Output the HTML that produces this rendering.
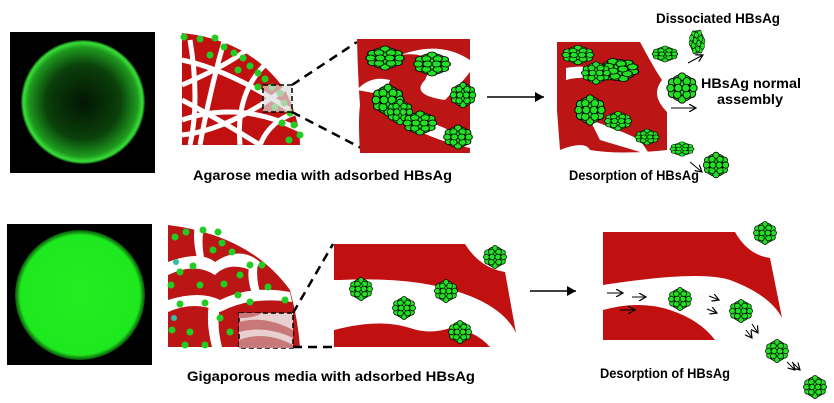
<!DOCTYPE html>
<html><head><meta charset="utf-8"><style>
html,body{margin:0;padding:0;background:#fff;}
svg{display:block;}
text{font-family:"Liberation Sans",Arial,sans-serif;font-weight:bold;fill:#000;}
</style></head><body>
<svg width="834" height="403" viewBox="0 0 834 403" xmlns="http://www.w3.org/2000/svg">
<defs>
<radialGradient id="ring" cx="0.5" cy="0.5" r="0.5">
<stop offset="0" stop-color="#031503"/><stop offset="0.6" stop-color="#0a400a"/><stop offset="0.88" stop-color="#1e9a1e"/><stop offset="0.96" stop-color="#38e038"/><stop offset="1" stop-color="#0c400c"/>
</radialGradient>
<radialGradient id="disc" cx="0.5" cy="0.5" r="0.5">
<stop offset="0" stop-color="#22ee22"/><stop offset="0.92" stop-color="#1ee81e"/><stop offset="1" stop-color="#0a500a"/>
</radialGradient>
<g id="cl" fill="#22e022" stroke="#000" stroke-width="1">
<circle cx="0" cy="0" r="14"/>
<circle cx="0" cy="-12" r="4"/><circle cx="10.4" cy="-6" r="4"/><circle cx="10.4" cy="6" r="4"/><circle cx="0" cy="12" r="4"/><circle cx="-10.4" cy="6" r="4"/><circle cx="-10.4" cy="-6" r="4"/>
<circle cx="-5" cy="-7" r="4"/><circle cx="5" cy="-7" r="4"/><circle cx="-5" cy="7" r="4"/><circle cx="5" cy="7" r="4"/>
<circle cx="-12" cy="0" r="4"/><circle cx="12" cy="0" r="4"/><circle cx="-4" cy="0" r="4"/><circle cx="4" cy="0" r="4"/>
</g>
<marker id="ah" markerWidth="8" markerHeight="8" refX="7" refY="4" orient="auto" markerUnits="userSpaceOnUse"><path d="M0,0 L7,4 L0,8" fill="none" stroke="#000" stroke-width="1.2"/></marker>
<marker id="ahf" markerWidth="10" markerHeight="10" refX="9" refY="5" orient="auto" markerUnits="userSpaceOnUse"><path d="M0,0 L9,5 L0,10 z" fill="#000"/></marker>
</defs>

<rect x="10" y="32" width="145" height="141" fill="#000"/>
<circle cx="83" cy="102" r="62" fill="url(#ring)"/>
<rect x="7" y="224" width="145" height="141" fill="#000"/>
<circle cx="80" cy="295" r="65" fill="url(#disc)"/>

<path d="M182,33 Q250,40 285,90 Q300,120 300,145 L182,145 Z" fill="#c01010"/>
<g stroke="#fff" stroke-width="5" fill="none">
<path d="M182,60 Q230,70 290,110"/><path d="M182,85 Q240,60 260,38"/><path d="M200,145 Q210,90 225,38"/>
<path d="M182,120 Q240,100 300,130"/><path d="M240,145 Q235,90 270,60"/><path d="M182,100 Q220,120 260,145"/>
<path d="M190,40 Q200,100 190,145"/><path d="M260,145 Q270,120 298,112"/><path d="M182,135 Q230,130 290,85"/>
</g>
<g fill="#22cc22">
<circle cx="184" cy="37" r="3.5"/><circle cx="200" cy="39" r="3.5"/><circle cx="215" cy="38" r="3.5"/><circle cx="224" cy="47" r="3.5"/><circle cx="234" cy="53" r="3.5"/><circle cx="243" cy="58" r="3.5"/><circle cx="250" cy="66" r="3.5"/><circle cx="258" cy="73" r="3.5"/><circle cx="265" cy="79" r="3.5"/><circle cx="272" cy="87" r="3.5"/><circle cx="280" cy="93" r="3.5"/><circle cx="284" cy="103" r="3.5"/><circle cx="290" cy="113" r="3.5"/><circle cx="294" cy="125" r="3.5"/><circle cx="300" cy="135" r="3.5"/><circle cx="289" cy="140" r="3.5"/><circle cx="282" cy="123" r="3.5"/><circle cx="258" cy="87" r="3.5"/><circle cx="238" cy="70" r="3.5"/><circle cx="210" cy="55" r="3.5"/><circle cx="275" cy="107" r="3.5"/>
</g>
<rect x="263" y="85" width="29" height="27" fill="#ddd" fill-opacity="0.7" stroke="#000" stroke-width="1.5" stroke-dasharray="5,3"/>
<g stroke="#000" stroke-width="2.5" stroke-dasharray="9,6"><line x1="292" y1="85" x2="357" y2="42"/><line x1="292" y1="112" x2="365" y2="150"/></g>

<path d="M357,39 L470,39 L470,153 L360,153 Q358,120 360,105 Q358,80 357,39 Z" fill="#bb1515"/>
<path d="M400,55 Q440,50 425,80 Q410,95 445,100 Q460,85 470,72 L470,60 Q440,40 400,55 Z" fill="#fff"/>
<path d="M395,110 Q430,120 470,140 L470,148 Q430,140 395,118 Z" fill="#fff"/>
<path d="M357,90 Q370,75 390,80 L385,95 Z" fill="#fff"/>
<use href="#cl" transform="translate(385,58) scale(1.2,0.75)"/>
<use href="#cl" transform="translate(432,64) scale(1.15,0.75)"/>
<use href="#cl" transform="translate(463,95) scale(0.8)"/>
<use href="#cl" transform="translate(388,100) scale(1.0)"/>
<use href="#cl" transform="translate(400,112) scale(0.8)"/>
<use href="#cl" transform="translate(420,123) scale(1.05,0.75)"/>
<use href="#cl" transform="translate(458,137) scale(0.9,0.75)"/>
<line x1="487" y1="97" x2="544" y2="97" stroke="#000" stroke-width="1.5" marker-end="url(#ahf)"/>

<path d="M557,42 L640,42 Q655,70 662,80 Q650,95 667,112 L667,150 Q620,155 590,150 Q585,140 560,150 L557,110 Z" fill="#bb1515"/>
<path d="M566,68 Q600,62 600,82 Q585,75 566,80 Z" fill="#fff"/>
<path d="M590,120 Q620,130 640,140 L650,155 L600,140 Z" fill="#fff"/>
<use href="#cl" transform="translate(578,55) scale(1.0,0.6)"/>
<use href="#cl" transform="translate(618,70) scale(1.3,0.75) rotate(-20)"/>
<use href="#cl" transform="translate(596,73) scale(0.9,0.7)"/>
<use href="#cl" transform="translate(665,54) scale(0.8,0.5)"/>
<use href="#cl" transform="translate(590,110) scale(0.95)"/>
<use href="#cl" transform="translate(618,121) scale(0.85,0.6)"/>
<use href="#cl" transform="translate(647,137) scale(0.75,0.5)"/>
<use href="#cl" transform="translate(682,149) scale(0.75,0.45)"/>
<use href="#cl" transform="translate(697,42) scale(0.5,0.8) rotate(25)"/>
<use href="#cl" transform="translate(682,88) scale(0.95)"/>
<use href="#cl" transform="translate(716,165) scale(0.8)"/>
<g stroke="#000" stroke-width="1" fill="none" marker-end="url(#ah)">
<line x1="688" y1="63" x2="703" y2="55"/><line x1="671" y1="108" x2="696" y2="108"/><line x1="690" y1="162" x2="702" y2="172"/>
</g>

<text x="193" y="180" font-size="13.5" textLength="259" lengthAdjust="spacingAndGlyphs">Agarose media with adsorbed HBsAg</text>
<text x="569" y="180" font-size="13.5" textLength="130" lengthAdjust="spacingAndGlyphs">Desorption of HBsAg</text>
<text x="656" y="23" font-size="13.5" textLength="124" lengthAdjust="spacingAndGlyphs">Dissociated HBsAg</text>
<text x="701" y="88" font-size="13.5" textLength="100" lengthAdjust="spacingAndGlyphs">HBsAg normal</text>
<text x="717" y="104" font-size="13.5" textLength="66" lengthAdjust="spacingAndGlyphs">assembly</text>

<path d="M168,225 Q250,235 290,290 Q298,320 300,347 L168,347 Z" fill="#bb1515"/>
<g fill="#fff">
<path d="M168,262 Q200,250 215,262 Q240,245 260,262 L255,272 Q230,260 215,275 Q195,262 168,275 Z"/>
<path d="M168,300 Q200,290 220,300 Q250,285 290,292 L292,302 Q250,296 220,312 Q195,300 168,312 Z"/>
<path d="M195,225 Q192,240 198,262 L205,262 Q200,240 205,225 Z"/>
<path d="M210,300 Q205,320 212,347 L222,347 Q215,320 222,300 Z"/>
<path d="M250,262 Q245,280 255,300 L262,298 Q255,280 258,262 Z"/>
</g>
<g fill="#22cc22">
<circle cx="175" cy="237" r="3.5"/><circle cx="186" cy="232" r="3.5"/><circle cx="203" cy="230" r="3.5"/><circle cx="218" cy="232" r="3.5"/><circle cx="222" cy="243" r="3.5"/><circle cx="213" cy="250" r="3.5"/><circle cx="232" cy="252" r="3.5"/><circle cx="250" cy="265" r="3.5"/><circle cx="262" cy="265" r="3.5"/><circle cx="268" cy="287" r="3.5"/><circle cx="285" cy="300" r="3.5"/><circle cx="193" cy="266" r="3.5"/><circle cx="180" cy="272" r="3.5"/><circle cx="171" cy="285" r="3.5"/><circle cx="200" cy="285" r="3.5"/><circle cx="224" cy="284" r="3.5"/><circle cx="238" cy="295" r="3.5"/><circle cx="250" cy="302" r="3.5"/><circle cx="180" cy="304" r="3.5"/><circle cx="205" cy="303" r="3.5"/><circle cx="220" cy="318" r="3.5"/><circle cx="190" cy="332" r="3.5"/><circle cx="172" cy="330" r="3.5"/><circle cx="205" cy="345" r="3.5"/><circle cx="185" cy="345" r="3.5"/><circle cx="230" cy="332" r="3.5"/><circle cx="240" cy="275" r="3.5"/>
</g>
<circle cx="176" cy="262" r="3" fill="#33bbaa"/><circle cx="174" cy="318" r="3" fill="#33bbaa"/>
<rect x="239" y="313" width="54" height="35" fill="#e8d0d0" stroke="#000" stroke-width="1.5" stroke-dasharray="5,3"/>
<path d="M239,322 Q265,315 293,330 L293,338 Q265,325 239,332 Z" fill="#c87878"/>
<path d="M239,340 Q265,330 293,345 L293,348 L239,348 Z" fill="#c87878"/>
<path d="M239,313 L262,313 Q255,318 239,318 Z" fill="#c87878"/>
<g stroke="#000" stroke-width="2.5" stroke-dasharray="9,6"><line x1="293" y1="313" x2="333" y2="244"/><line x1="293" y1="347" x2="338" y2="347"/></g>

<path d="M334,244 L465,244 Q480,268 505,272 L516,333 Q505,310 470,296 Q420,276 340,280 L334,280 Z" fill="#c01010"/>
<path d="M334,330 Q380,318 410,328 Q430,335 450,328 Q475,330 490,347 L334,347 Z" fill="#c01010"/>
<use href="#cl" transform="translate(361,289) scale(0.72)"/>
<use href="#cl" transform="translate(404,308) scale(0.72)"/>
<use href="#cl" transform="translate(446,291) scale(0.72)"/>
<use href="#cl" transform="translate(460,332) scale(0.72)"/>
<use href="#cl" transform="translate(495,257) scale(0.72)"/>
<line x1="530" y1="291" x2="576" y2="291" stroke="#000" stroke-width="1.5" marker-end="url(#ahf)"/>

<path d="M603,232 L735,232 Q748,255 770,258 L782,318 Q770,295 730,280 Q700,270 603,285 Z" fill="#c01010"/>
<path d="M603,310 Q640,300 670,310 Q700,320 715,340 L603,340 Z" fill="#c01010"/>
<use href="#cl" transform="translate(765,233) scale(0.72)"/>
<use href="#cl" transform="translate(680,299) scale(0.72)"/>
<use href="#cl" transform="translate(741,311) scale(0.72)"/>
<use href="#cl" transform="translate(777,351) scale(0.72)"/>
<use href="#cl" transform="translate(815,387) scale(0.72)"/>
<g stroke="#000" stroke-width="1" fill="none" marker-end="url(#ah)">
<line x1="607" y1="293" x2="623" y2="293"/><line x1="632" y1="297" x2="646" y2="297"/><line x1="620" y1="310" x2="635" y2="310"/>
<line x1="709" y1="296" x2="719" y2="300"/><line x1="707" y1="309" x2="717" y2="313"/>
<line x1="752" y1="324" x2="758" y2="333"/><line x1="746" y1="330" x2="752" y2="338"/>
<line x1="787" y1="362" x2="795" y2="370"/><line x1="792" y1="362" x2="800" y2="370"/>
</g>

<text x="187" y="381" font-size="13.5" textLength="288" lengthAdjust="spacingAndGlyphs">Gigaporous media with adsorbed HBsAg</text>
<text x="600" y="378" font-size="13.5" textLength="130" lengthAdjust="spacingAndGlyphs">Desorption of HBsAg</text>
</svg>
</body></html>
